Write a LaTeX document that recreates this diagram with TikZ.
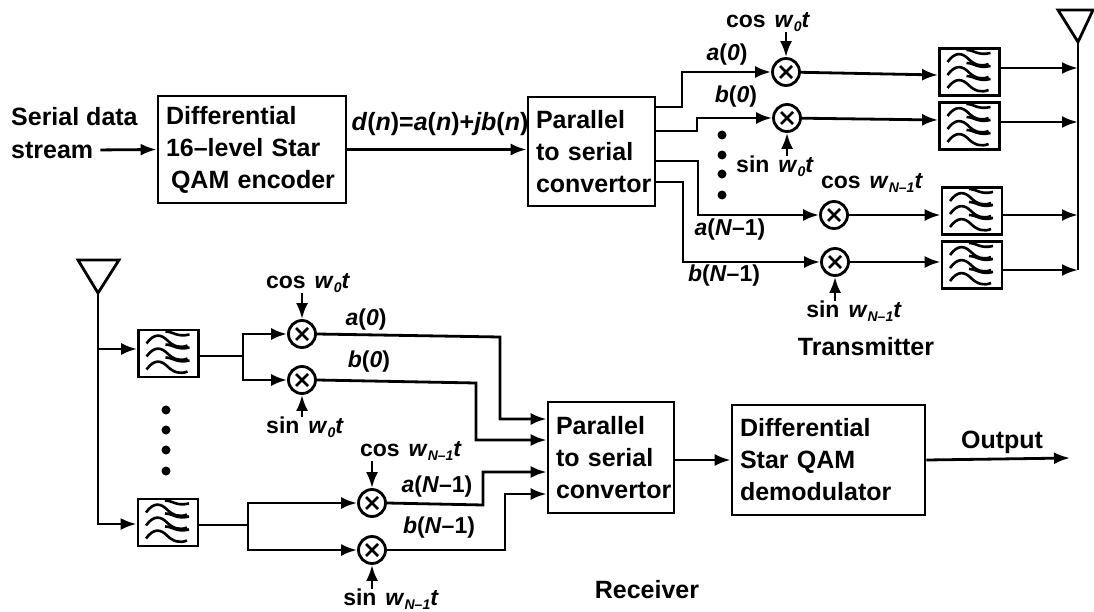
\documentclass[tikz,border=0pt]{standalone}
\usepackage{fontspec}
\setmainfont{Liberation Sans}
\usetikzlibrary{arrows.meta, positioning}

\newcommand{\carrier}[3]{#1\hspace{9pt}\textit{w}\raisebox{-4pt}{\fontsize{14}{14}\selectfont\textit{#2}}\textit{#3}}

\begin{document}
\begin{tikzpicture}[x=1pt, y=-1pt,
    block/.style 2 args={rectangle, draw, line width=2.8pt, align=left, inner xsep=8pt, minimum width=#1, text width=#1-16pt, minimum height=#2, font=\bfseries\fontsize{25}{32}\selectfont},
    mixer/.style={circle, draw, line width=2.8pt, minimum size=27pt, inner sep=0pt,
        path picture={\draw [shift={(path picture bounding box.center)}, line width=2.8pt] (-6,-6) -- (6,6) (-6,6) -- (6,-6);}},
    filt/.style={rectangle, draw, line width=2.8pt, minimum width=60pt, minimum height=47pt,
        path picture={\foreach \dy in {-13,0,13} {
            \draw [shift={(path picture bounding box.center)}, line width=2.6pt] (-22,\dy+3) .. controls (-14,\dy-8) and (-7,\dy-6) .. (-1,\dy) .. controls (5,\dy+6) and (12,\dy+8) .. (19,\dy+5);
            \draw [shift={(path picture bounding box.center)}, line width=2.6pt] (-3,\dy-9) .. controls (5,\dy-9) and (8,\dy-3) .. (21,\dy-6);
        }}},
    lbl/.style={inner sep=0pt, font=\bfseries\fontsize{23}{25}\selectfont},
    title/.style={inner sep=0pt, font=\bfseries\fontsize{25}{27}\selectfont},
    dotmark/.style={circle, fill=black, minimum size=9pt, inner sep=0pt},
    line/.style={draw, line width=2.8pt, -{Latex[length=16pt,width=12pt]}},
    wire/.style={draw, line width=2.8pt}
]
    \useasboundingbox (0,0) rectangle (1094,612);

    % Transmitter
    \node [title, anchor=west] (serial) at (11,117) {Serial data};
    \node [title, anchor=west] (stream) at (11,150) {stream};
    \node [block={188pt}{107pt}] (enc) at (252,149.5) {Differential\\16--level Star\\\hspace*{5pt}QAM encoder};
    \node [block={127pt}{109pt}] (par) at (591.5,151.5) {Parallel\\to serial\\\mbox{convertor}};
    \node [lbl, font=\bfseries\fontsize{25}{27}\selectfont] (dn) at (440,124) {\textit{d}(\textit{n})=\textit{a}(\textit{n})+\textit{jb}(\textit{n})};

    \node [mixer] (ma) at (786,72) {};
    \node [mixer] (mb) at (787,118) {};
    \node [mixer] (mc) at (834,215) {};
    \node [mixer] (md) at (835,262) {};

    \node [filt] (fa) at (969.5,72) {};
    \node [filt] (fb) at (969.5,126) {};
    \node [filt] (fc) at (972,211) {};
    \node [filt] (fd) at (972,265) {};

    \coordinate (txtop) at (1078,42);
    \coordinate (txend) at (1078,270);
    \draw [line width=2.8pt] (1058,10) -- (1093,10) -- (txtop) -- cycle;

    % Tx labels
    \node [lbl, above=25pt of ma, xshift=-18pt] (cosa) {\carrier{cos}{0}{t}};
    \node [lbl, below=23pt of mb, xshift=-12pt] (sinb) {\carrier{sin}{0}{t}};
    \node [lbl, above=7pt of mc, xshift=38pt] (cosc) {\carrier{cos}{N--1}{t}};
    \node [lbl, below=24pt of md, xshift=19pt] (sind) {\carrier{sin}{N--1}{t}};
    \node [lbl] (a0) at (727,55) {\textit{a}(\textit{0})};
    \node [lbl] (b0) at (736,97) {\textit{b}(\textit{0})};
    \node [lbl] (an) at (730,230) {\textit{a}(\textit{N}--1)};
    \node [lbl] (bn) at (724,276) {\textit{b}(\textit{N}--1)};
    \node [title] (txname) at (866,347) {Transmitter};
    \foreach \n/\y in {1/135,2/155,3/174,4/195}
        \node [dotmark] (txdot\n) at (722,\y) {};

    % Tx connections
    \path [line, shorten <=7pt] (stream.east) -- (enc.west);
    \path [line] (enc.east) -- (par.west |- enc.east);
    \path [line] (par.east |- 0,107) -- (682,107) |- (ma.west);
    \path [line] (par.east |- 0,131) -- (697,131) |- (mb.west);
    \path [line] (par.east |- 0,161) -- (698,161) |- (mc.west);
    \path [line] (par.east |- 0,182) -- (683,182) |- (md.west);
    \path [line] (cosa.south -| ma) -- (ma);
    \path [line] (sinb.north -| mb) -- (mb);
    \path [line] (sind.north -| md) -- (md);
    \path [line] (ma) -- ([yshift=-3pt]fa.west);
    \path [line] (mb) -- ([yshift=6pt]fb.west);
    \path [line] (mc) -- ([yshift=-4pt]fc.west);
    \path [line] (md) -- ([yshift=3pt]fd.west);
    \path [line] ([yshift=4pt]fa.east) -- (txtop |- 0,68);
    \path [line] ([yshift=4pt]fb.east) -- (txtop |- 0,122);
    \path [line] ([yshift=-4pt]fc.east) -- (txtop |- 0,215);
    \path [line] ([yshift=-5pt]fd.east) -- (txtop |- 0,270);
    \path [wire] (txtop) -- (txend);

    % Receiver
    \node [mixer] (ra) at (302,334) {};
    \node [mixer] (rb) at (302,380) {};
    \node [mixer] (rc) at (372,503) {};
    \node [mixer] (rd) at (372,550) {};

    \node [filt] (ga) at (168.5,353.5) {};
    \node [filt] (gb) at (168,522.5) {};

    \coordinate (rxtop) at (98,293);
    \draw [line width=2.8pt] (78,260) -- (119,260) -- (rxtop) -- cycle;

    \node [block={126pt}{111pt}] (rpar) at (611,457.5) {Parallel\\to serial\\\mbox{convertor}};
    \node [block={193pt}{110pt}] (dem) at (828.5,460) {Differential\\Star QAM\\demodulator};

    % Rx labels
    \node [lbl, above=26pt of ra, xshift=6pt] (cosra) {\carrier{cos}{0}{t}};
    \node [lbl, below=22pt of rb, xshift=3pt] (sinrb) {\carrier{sin}{0}{t}};
    \node [lbl, above=27pt of rc, xshift=39pt] (cosrc) {\carrier{cos}{N--1}{t}};
    \node [lbl, below=24pt of rd, xshift=19pt] (sinrd) {\carrier{sin}{N--1}{t}};
    \node [lbl] (ra0) at (366,320) {\textit{a}(\textit{0})};
    \node [lbl] (rb0) at (369,362) {\textit{b}(\textit{0})};
    \node [lbl] (ran) at (437,487) {\textit{a}(\textit{N}--1)};
    \node [lbl] (rbn) at (439,528) {\textit{b}(\textit{N}--1)};
    \node [title] (out) at (1002,442) {Output};
    \node [title] (rxname) at (647,590) {Receiver};
    \foreach \n/\y in {1/410,2/430,3/450,4/471}
        \node [dotmark] (rxdot\n) at (166,\y) {};

    % Rx connections
    \coordinate (rxend) at (1070,458);
    \coordinate (splita) at (243,356);
    \coordinate (splitb) at (248,525);
    \path [line] (rxtop) |- (gb.west |- 0,524);
    \path [line] (rxtop |- 0,349) -- (ga.west |- 0,349);
    \path [wire] (ga.east |- splita) -- (splita);
    \path [line] (splita) |- (ra.west);
    \path [line] (splita) |- (rb.west);
    \path [wire] (gb.east |- splitb) -- (splitb);
    \path [line] (splitb) |- (rc.west);
    \path [line] (splitb) |- (rd.west);
    \path [line] (cosra.south -| ra) -- (ra);
    \path [line] (sinrb.north -| rb) -- (rb);
    \path [line] (cosrc.south -| rc) -- (rc);
    \path [line] (sinrd.north -| rd) -- (rd);
    \path [line] (ra.east) -- (500,337) |- (rpar.west |- 0,419);
    \path [line] (rb.east) -- (476,383) |- (rpar.west |- 0,440);
    \path [line] (rc.east) -- (483,505) |- (rpar.west |- 0,472);
    \path [line] (rd.east) -- (505,550) |- (rpar.west |- 0,494);
    \path [line] (rpar.east |- dem.west) -- (dem.west);
    \path [line] (dem.east) -- (rxend);
\end{tikzpicture}
\end{document}
